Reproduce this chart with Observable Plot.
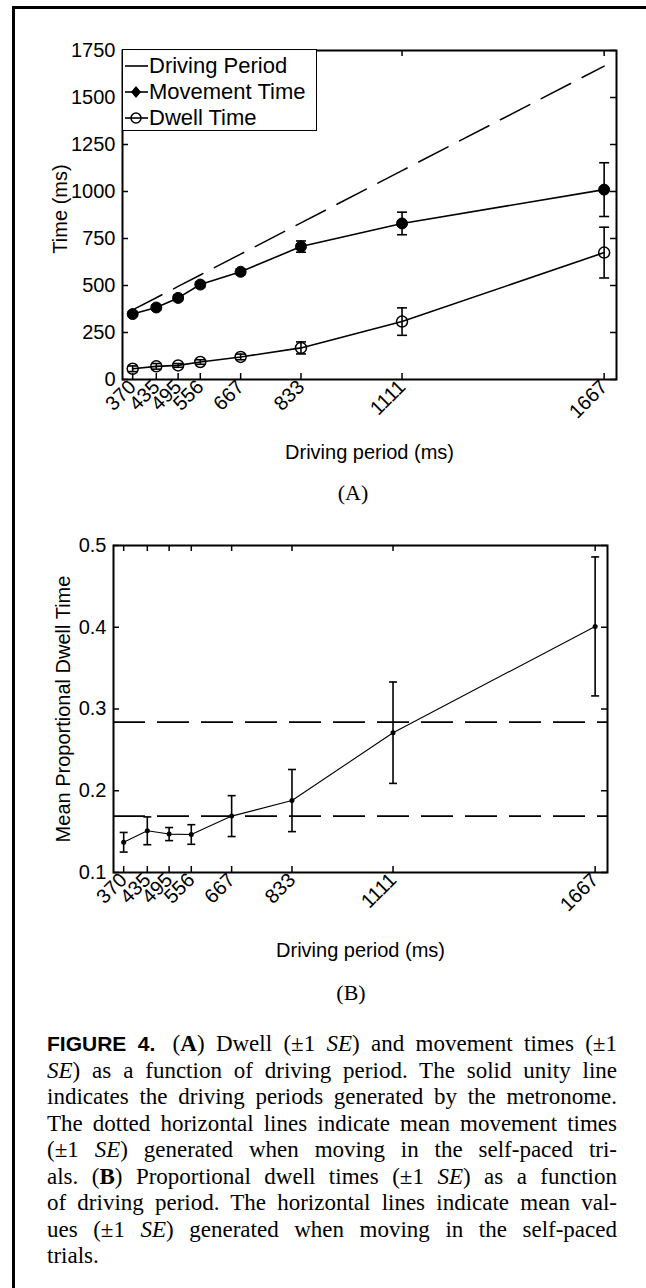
<!DOCTYPE html>
<html>
<head>
<meta charset="utf-8">
<script src="https://cdn.jsdelivr.net/npm/d3@7"></script>
<script src="https://cdn.jsdelivr.net/npm/@observablehq/plot@0.6"></script>
<style>
  html, body { margin: 0; padding: 0; width: 646px; height: 1288px; overflow: hidden; background: white; }
  #page { position: relative; width: 646px; height: 1288px; }
  .abs { position: absolute; }
  #border { left: 12px; top: 6px; width: 700px; height: 1400px; border-left: 3px solid #000; border-top: 3px solid #000; }
  .panelLabel { font-family: "Liberation Serif", "Times New Roman", serif; font-size: 22px; color: #000; transform: translate(-50%, -50%); white-space: nowrap; }
  #legend { left: 122px; top: 49px; width: 193px; height: 80px; border: 1.5px solid #000; background: #fff; font-family: "Liberation Sans", Arial, sans-serif; font-size: 22px; color: #000; }
  .lrow { position: absolute; left: 0; height: 26px; line-height: 26px; white-space: nowrap; }
  .lrow svg { position: absolute; left: 2px; top: 0; }
  .lrow span { position: absolute; left: 26px; top: 0; }
  #caption { left: 47px; top: 1031px; width: 570px; font-family: "Liberation Serif", "Times New Roman", serif; font-size: 23px; line-height: 26.5px; color: #000; }
  #caption div { text-align: justify; text-align-last: justify; white-space: normal; }
  #caption div.last { text-align-last: left; }
  .figlab { font-family: "Liberation Sans", Arial, sans-serif; font-weight: bold; font-size: 21px; margin-right: 6px; }
</style>
</head>
<body>
<div id="page">
  <div id="border" class="abs"></div>
  <div id="chartA" class="abs" style="left:0;top:0;"></div>
  <div id="legend" class="abs"></div>
  <div class="abs panelLabel" style="left:353px;top:493px;">(A)</div>
  <div id="chartB" class="abs" style="left:0;top:495px;"></div>
  <div class="abs panelLabel" style="left:351px;top:993px;">(B)</div>
  <div id="caption" class="abs">
    <div><span class="figlab">FIGURE 4.</span> (<b>A</b>) Dwell (±1 <i>SE</i>) and movement times (±1</div>
    <div><i>SE</i>) as a function of driving period. The solid unity line</div>
    <div>indicates the driving periods generated by the metronome.</div>
    <div>The dotted horizontal lines indicate mean movement times</div>
    <div>(±1 <i>SE</i>) generated when moving in the self-paced tri-</div>
    <div>als. (<b>B</b>) Proportional dwell times (±1 <i>SE</i>) as a function</div>
    <div>of driving period. The horizontal lines indicate mean val-</div>
    <div>ues (±1 <i>SE</i>) generated when moving in the self-paced</div>
    <div class="last">trials.</div>
  </div>
</div>
<script>
// ---------- data ----------
const periods = [370, 435, 495, 556, 667, 833, 1111, 1667];
const movementTime = [348, 383, 434, 505, 573, 707, 830, 1010];
const movementSE = [12, 12, 15, 15, 15, 30, 60, 143];
const dwellTime = [57, 70, 75, 93, 120, 168, 308, 675];
const dwellSE = [15, 15, 10, 12, 15, 32, 73, 135];
const propDwell = [0.137, 0.151, 0.147, 0.1465, 0.169, 0.188, 0.271, 0.401];
const propDwellSE = [0.012, 0.017, 0.008, 0.012, 0.025, 0.038, 0.062, 0.085];
const selfPacedProp = [0.284, 0.169];
const yTicksA = [0, 250, 500, 750, 1000, 1250, 1500, 1750];
const yTicksB = [0.1, 0.2, 0.3, 0.4, 0.5];
const legendLabels = ["Driving Period", "Movement Time", "Dwell Time"];

const rowsA = periods.map((p, i) => ({period: p, mt: movementTime[i], mtSE: movementSE[i], dt: dwellTime[i], dtSE: dwellSE[i]}));
const rowsB = periods.map((p, i) => ({period: p, v: propDwell[i], se: propDwellSE[i]}));

// horizontal cap symbol for error bars
const capSymbol = {draw(ctx, size) { const r = Math.sqrt(size / Math.PI); ctx.moveTo(-r, 0); ctx.lineTo(r, 0); }};

const W = 646;
const font = {fontFamily: "'Liberation Sans', Arial, sans-serif", fontSize: "20px", color: "black", background: "transparent", overflow: "visible"};

// ---------- Panel A ----------
{
  const mL = 122, mR = 30, mT = 50, H = 480, mB = H - 379;
  const iW = W - mL - mR, iH = H - mT - mB, tk = 6;
  const plotA = Plot.plot({
    width: W, height: H, marginLeft: mL, marginRight: mR, marginTop: mT, marginBottom: mB,
    style: font,
    x: {domain: [342, 1701], ticks: periods, tickFormat: d => String(d), tickRotate: -45, tickSize: 0, tickPadding: 4, label: null},
    y: {domain: [0, 1750], ticks: yTicksA, tickFormat: d => String(d), tickSize: 0, tickPadding: 7, label: null},
    marks: [
      Plot.line(periods, {x: d => d, y: d => d, stroke: "black", strokeWidth: 1.5, strokeDasharray: "33,13"}),
      Plot.line(rowsA, {x: "period", y: "mt", stroke: "black", strokeWidth: 1.6}),
      Plot.line(rowsA, {x: "period", y: "dt", stroke: "black", strokeWidth: 1.6}),
      Plot.ruleX(rowsA, {x: "period", y1: d => d.mt - d.mtSE, y2: d => d.mt + d.mtSE, stroke: "black", strokeWidth: 1.6}),
      Plot.ruleX(rowsA, {x: "period", y1: d => d.dt - d.dtSE, y2: d => d.dt + d.dtSE, stroke: "black", strokeWidth: 1.6}),
      Plot.dot(rowsA, {x: "period", y: d => d.mt + d.mtSE, symbol: capSymbol, r: 5, fill: "none", stroke: "black", strokeWidth: 1.6}),
      Plot.dot(rowsA, {x: "period", y: d => d.mt - d.mtSE, symbol: capSymbol, r: 5, fill: "none", stroke: "black", strokeWidth: 1.6}),
      Plot.dot(rowsA, {x: "period", y: d => d.dt + d.dtSE, symbol: capSymbol, r: 5, fill: "none", stroke: "black", strokeWidth: 1.6}),
      Plot.dot(rowsA, {x: "period", y: d => d.dt - d.dtSE, symbol: capSymbol, r: 5, fill: "none", stroke: "black", strokeWidth: 1.6}),
      Plot.dot(rowsA, {x: "period", y: "mt", r: 5.5, fill: "black", stroke: "black", strokeWidth: 1}),
      Plot.dot(rowsA, {x: "period", y: "dt", r: 5.5, fill: "none", stroke: "black", strokeWidth: 1.5}),
      // inward ticks on all four sides
      Plot.tickX(periods, {x: d => d, insetTop: iH - tk, stroke: "black", strokeWidth: 1.5}),
      Plot.tickX(periods, {x: d => d, insetBottom: iH - tk, stroke: "black", strokeWidth: 1.5}),
      Plot.tickY(yTicksA, {y: d => d, insetRight: iW - tk, stroke: "black", strokeWidth: 1.5}),
      Plot.tickY(yTicksA, {y: d => d, insetLeft: iW - tk, stroke: "black", strokeWidth: 1.5}),
      Plot.frame({stroke: "black", strokeWidth: 2}),
      Plot.text(["Driving period (ms)"], {frameAnchor: "bottom", lineAnchor: "middle", textAnchor: "middle", dy: 73, fontSize: 20, fill: "black"}),
      Plot.text(["Time (ms)"], {frameAnchor: "left", textAnchor: "middle", lineAnchor: "middle", rotate: -90, dx: -62, dy: -6, fontSize: 20, fill: "black"})
    ]
  });
  document.getElementById("chartA").appendChild(plotA);
}

// ---------- Legend (panel A) ----------
{
  const lg = document.getElementById("legend");
  const tops = [3, 29, 55];
  legendLabels.forEach((lab, i) => {
    const row = document.createElement("div");
    row.className = "lrow";
    row.style.top = tops[i] + "px";
    let marker = "";
    if (i === 1) marker = '<path d="M11,7 L16,13 L11,19 L6,13 Z" fill="black"/><circle cx="11" cy="13" r="3.5" fill="black"/>';
    if (i === 2) marker = '<circle cx="11" cy="13" r="5" fill="none" stroke="black" stroke-width="1.5"/>';
    row.innerHTML = '<svg width="24" height="26"><line x1="0" x2="23" y1="13" y2="13" stroke="black" stroke-width="1.6"/>' + marker + '</svg><span>' + lab + '</span>';
    lg.appendChild(row);
  });
}

// ---------- Panel B ----------
{
  const mL = 113, mR = 39, mT = 50, H = 480, mB = H - 377;
  const iW = W - mL - mR, iH = H - mT - mB, tk = 6;
  const plotB = Plot.plot({
    width: W, height: H, marginLeft: mL, marginRight: mR, marginTop: mT, marginBottom: mB,
    style: font,
    x: {domain: [342, 1701], ticks: periods, tickFormat: d => String(d), tickRotate: -45, tickSize: 0, tickPadding: 4, label: null},
    y: {domain: [0.1, 0.5], ticks: yTicksB, tickFormat: d => d.toFixed(1), tickSize: 0, tickPadding: 7, label: null},
    marks: [
      Plot.ruleY(selfPacedProp, {y: d => d, stroke: "black", strokeWidth: 1.6, strokeDasharray: "32,12"}),
      Plot.line(rowsB, {x: "period", y: "v", stroke: "black", strokeWidth: 1.1}),
      Plot.ruleX(rowsB, {x: "period", y1: d => d.v - d.se, y2: d => d.v + d.se, stroke: "black", strokeWidth: 1.6}),
      Plot.dot(rowsB, {x: "period", y: d => d.v + d.se, symbol: capSymbol, r: 4, fill: "none", stroke: "black", strokeWidth: 1.6}),
      Plot.dot(rowsB, {x: "period", y: d => d.v - d.se, symbol: capSymbol, r: 4, fill: "none", stroke: "black", strokeWidth: 1.6}),
      Plot.dot(rowsB, {x: "period", y: "v", r: 2.5, fill: "black"}),
      Plot.tickX(periods, {x: d => d, insetTop: iH - tk, stroke: "black", strokeWidth: 1.5}),
      Plot.tickX(periods, {x: d => d, insetBottom: iH - tk, stroke: "black", strokeWidth: 1.5}),
      Plot.tickY(yTicksB, {y: d => d, insetRight: iW - tk, stroke: "black", strokeWidth: 1.5}),
      Plot.tickY(yTicksB, {y: d => d, insetLeft: iW - tk, stroke: "black", strokeWidth: 1.5}),
      Plot.frame({stroke: "black", strokeWidth: 2}),
      Plot.text(["Driving period (ms)"], {frameAnchor: "bottom", lineAnchor: "middle", textAnchor: "middle", dy: 78, fontSize: 20, fill: "black"}),
      Plot.text(["Mean Proportional Dwell Time"], {frameAnchor: "left", textAnchor: "middle", lineAnchor: "middle", rotate: -90, dx: -50, fontSize: 20, fill: "black"})
    ]
  });
  document.getElementById("chartB").appendChild(plotB);
}
</script>
</body>
</html>
